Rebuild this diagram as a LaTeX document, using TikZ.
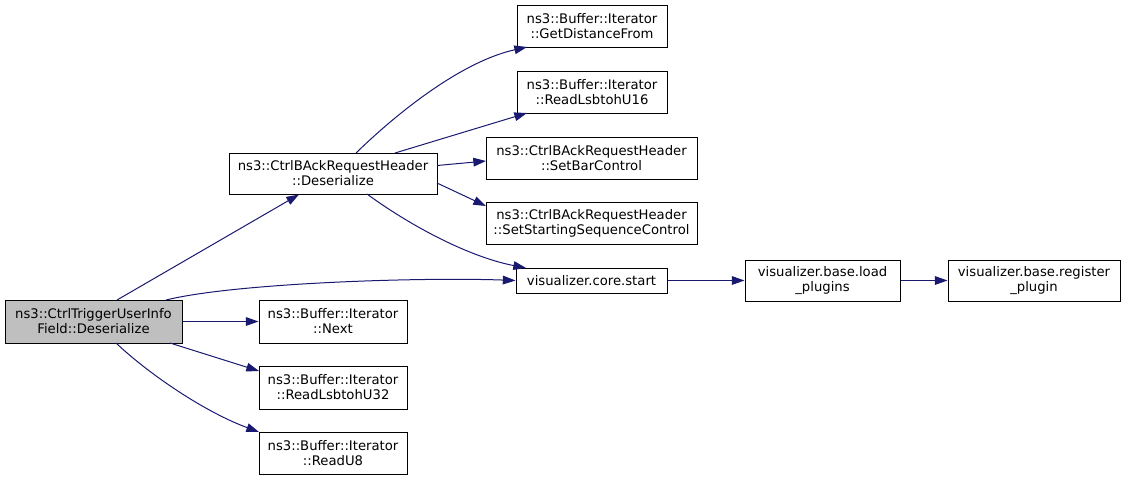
\documentclass[tikz,border=0pt]{standalone}
\usepackage{fontspec}
\setmainfont{DejaVu Sans}
\usetikzlibrary{arrows.meta}
\definecolor{edgec}{HTML}{191970}
\definecolor{mainfill}{HTML}{BFBFBF}
\begin{document}
\begin{tikzpicture}[x=0.75pt,y=-0.75pt,
  fn/.style={draw=black,fill=white,line width=0.75pt,inner sep=0pt,align=center,
    font=\fontsize{9.9}{11.3}\selectfont},
  call/.style={draw=edgec,line width=0.75pt,-{Triangle[length=9.5pt,width=6.5pt]}}]
\useasboundingbox (0,0) rectangle (1127,480);
\node[fn,fill=mainfill,minimum width=177*0.75pt,minimum height=43*0.75pt] (m) at (93.5,321.5) {ns3::CtrlTriggerUserInfo\\Field::Deserialize};
\node[fn,minimum width=208*0.75pt,minimum height=41*0.75pt] (d) at (333,173.5) {ns3::CtrlBAckRequestHeader\\::Deserialize};
\node[fn,minimum width=150*0.75pt,minimum height=42*0.75pt] (g) at (592,26) {ns3::Buffer::Iterator\\::GetDistanceFrom};
\node[fn,minimum width=150*0.75pt,minimum height=42*0.75pt] (r16) at (592,92) {ns3::Buffer::Iterator\\::ReadLsbtohU16};
\node[fn,minimum width=211*0.75pt,minimum height=42*0.75pt] (sb) at (591.5,158) {ns3::CtrlBAckRequestHeader\\::SetBarControl};
\node[fn,minimum width=211*0.75pt,minimum height=42*0.75pt] (ss) at (591.5,223) {ns3::CtrlBAckRequestHeader\\::SetStartingSequenceControl};
\node[fn,minimum width=151*0.75pt,minimum height=25*0.75pt] (vs) at (591.5,280.5) {visualizer.core.start};
\node[fn,minimum width=155*0.75pt,minimum height=41*0.75pt] (lp) at (822.5,280.5) {visualizer.base.load\\\_plugins};
\node[fn,minimum width=172*0.75pt,minimum height=41*0.75pt] (rp) at (1034,280.5) {visualizer.base.register\\\_plugin};
\node[fn,minimum width=148*0.75pt,minimum height=43*0.75pt] (nx) at (333,321.5) {ns3::Buffer::Iterator\\::Next};
\node[fn,minimum width=148*0.75pt,minimum height=43*0.75pt] (r32) at (333,387.5) {ns3::Buffer::Iterator\\::ReadLsbtohU32};
\node[fn,minimum width=148*0.75pt,minimum height=42*0.75pt] (r8) at (333,453) {ns3::Buffer::Iterator\\::ReadU8};
\coordinate (m1) at (117,300);
\coordinate (m2) at (166,300);
\coordinate (m3) at (170,343);
\coordinate (m4) at (116,343);
\draw[call] (m1) -- (299,194.5);
\draw[call] (m2) .. controls (235,283) and (420,277) .. (vs.west);
\draw[call] (m.east) -- (nx.west);
\draw[call] (m3) -- (259,371);
\draw[call] (m4) .. controls (150,375) and (205,412) .. (259,432);
\coordinate (d1) at (356,153);
\coordinate (d2) at (395,153);
\coordinate (d3) at (437,165.5);
\coordinate (d4) at (437,183);
\coordinate (d5) at (367,194);
\draw[call] (d1) .. controls (395,115) and (460,62) .. (527,47);
\draw[call] (d2) -- (527,113);
\draw[call] (d3) -- (486,161);
\draw[call] (d4) -- (486,206);
\draw[call] (d5) .. controls (405,222) and (465,256) .. (526,268);
\draw[call] (vs.east) -- (lp.west);
\draw[call] (lp.east) -- (rp.west);
\end{tikzpicture}
\end{document}
